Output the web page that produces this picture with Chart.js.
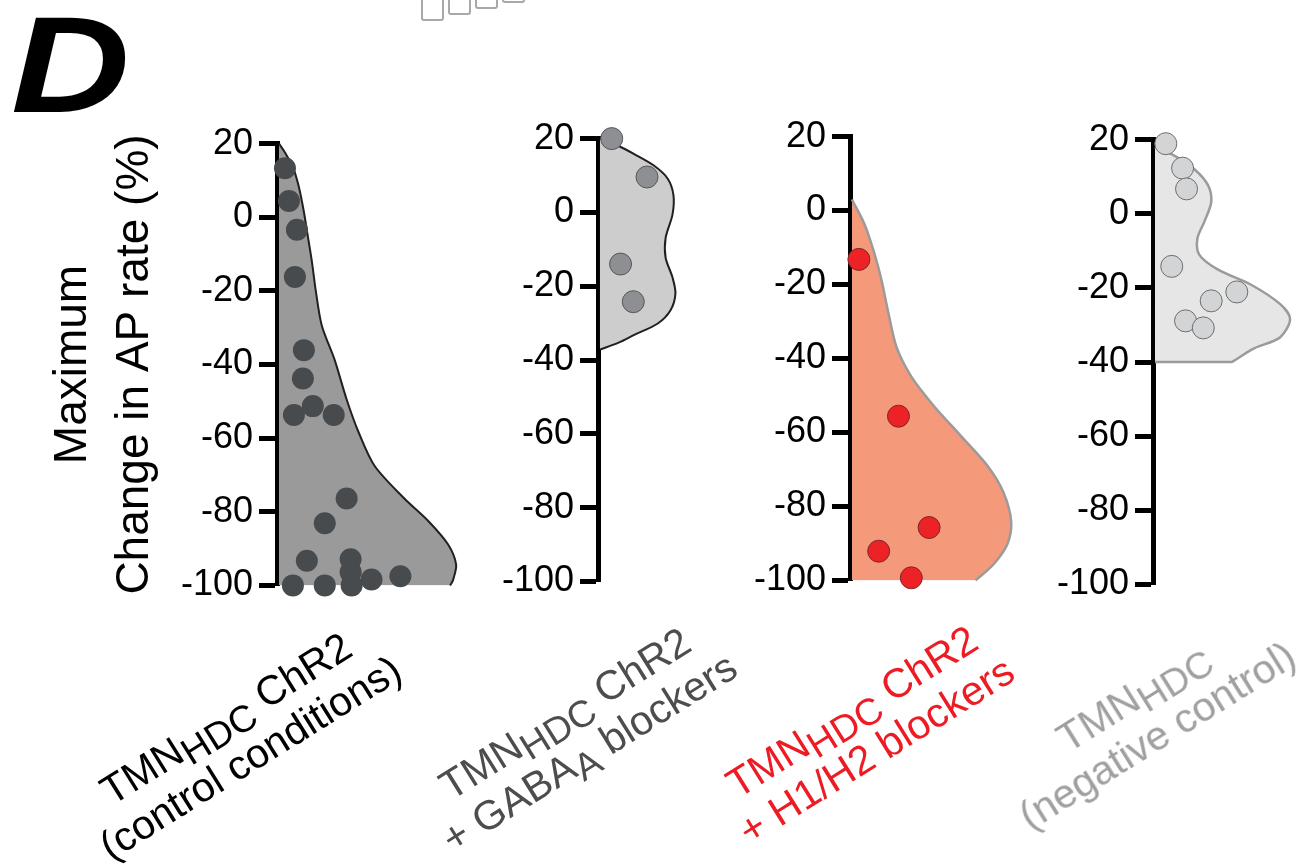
<!DOCTYPE html>
<html><head><meta charset="utf-8">
<script src="https://cdn.jsdelivr.net/npm/chart.js@4.4.1/dist/chart.umd.min.js"></script>
<style>
html,body{margin:0;padding:0;background:#fff;width:1315px;height:865px;overflow:hidden;font-family:"Liberation Sans",Arial,sans-serif;}
canvas{position:absolute;}
.lbl{position:absolute;white-space:nowrap;text-align:center;font-size:41px;line-height:46px;transform:translate(-50%,-50%) rotate(-32deg);}
.lbl sub{font-size:0.92em;vertical-align:-0.22em;line-height:0;}
.letter{position:absolute;left:11px;top:-4px;font:italic bold 137px/1 "Liberation Sans",Arial,sans-serif;color:#000;transform:scaleX(1.2);transform-origin:0 0;}
.box{position:absolute;top:-4px;border:2px solid #a7a8ab;border-radius:0 0 3px 3px;width:19px;}
</style></head>
<body>
<div class="letter">D</div>
<div class="box" style="left:421px;height:21px"></div>
<div class="box" style="left:448px;height:15px"></div>
<div class="box" style="left:475px;height:9px"></div>
<div class="box" style="left:502px;height:3px"></div>
<canvas id="c1" width="447" height="497" style="left:40px;top:116px"></canvas>
<canvas id="c2" width="220" height="498" style="left:488px;top:111px"></canvas>
<canvas id="c3" width="300" height="499" style="left:740px;top:109px"></canvas>
<canvas id="c4" width="265" height="500" style="left:1043px;top:112px"></canvas>
<div id="labels"></div>
<script>
// ---------- data ----------
const CATEGORY_LINES = [
  ["TMN<sub>HDC</sub> ChR2", "(control conditions)"],
  ["TMN<sub>HDC</sub> ChR2", "+ GABA<sub>A</sub> blockers"],
  ["TMN<sub>HDC</sub> ChR2", "+ H1/H2 blockers"],
  ["TMN<sub>HDC</sub>", "(negative control)"]
];
const Y_TICKS = [20, 0, -20, -40, -60, -80, -100];
const Y_TICK_LABELS = ["20", "0", "-20", "-40", "-60", "-80", "-100"];
const Y_TITLE = ["Maximum", "Change in AP rate (%)"];

// half-violin outlines: value and density width
const V1_VAL = [20, 17.6, 13.6, 8.2, 1.5, -5.2, -11.9, -20, -29.4, -38.8, -49.5, -58.4, -67.5, -76.4, -82.5, -88.9, -94.3, -98.5, -100];
const V1_W   = [0, 6, 14, 20, 25, 29, 33, 37, 43, 56, 68, 80, 96, 126, 150, 170, 178, 175, 172];
const V2_VAL = [20, 18, 15.8, 12.7, 9.2, 4.7, -0.6, -6.9, -12.3, -17.6, -22, -26.5, -30.1, -33.2, -35.3, -37.2];
const V2_W   = [0, 19, 35, 55, 69, 75, 74, 67, 67, 74, 77, 72, 59, 35, 19, 0];
const V3_VAL = [3, -3.9, -11.9, -19, -27.9, -36.9, -44.9, -52.9, -60.9, -69, -76.1, -84.1, -90.3, -95.7, -100];
const V3_W   = [0, 13, 23, 30, 37, 45, 60, 83, 110, 137, 153, 161, 157, 143, 125];
const V4_VAL = [18, 15.6, 12, 7.6, 3.1, -2.2, -6.7, -11.1, -15.1, -19.1, -24.4, -28.4, -33.3, -36.4, -40, -40, -40];
const V4_W   = [0, 20, 40, 54, 57, 50, 43, 45, 64, 97, 127, 137, 127, 100, 78, 77, 0];

// individual cells: jitter offset and value
const P1_JIT = [6, 10, 18, 16, 25, 24, 34, 15, 55, 68, 46, 28, 72, 72, 122, 93, 14, 46, 73];
const P1_VAL = [13.3, 4.4, -3.4, -16.2, -36.1, -43.8, -51.3, -53.7, -53.7, -76.4, -83.1, -93.3, -92.9, -96.4, -97.5, -98.4, -100, -100, -100];
const P2_JIT = [12, 48, 21, 34];
const P2_VAL = [20, 9.6, -14, -24.2];
const P3_JIT = [7, 47, 78, 27, 60];
const P3_VAL = [-13.2, -55.6, -85.7, -92.1, -99.3];
const P4_JIT = [11, 28, 32, 17, 83, 57, 31, 49];
const P4_VAL = [18.9, 12.3, 6.7, -14.2, -21.1, -23.5, -28.9, -30.8];

// ---------- styles / layout ----------
const FONT = '"Liberation Sans", Arial, sans-serif';
const PANELS = [
  {id:'c1', vv:V1_VAL, vw:V1_W, pv:P1_VAL, px:P1_JIT, yw:237, areaW:200, title:true,
   fill:'#9a9a9a', stroke:'#231f20', sw:2, pt:'#474b4d', ptb:'#474b4d', ptbw:0},
  {id:'c2', vv:V2_VAL, vw:V2_W, pv:P2_VAL, px:P2_JIT, yw:110, areaW:100, title:false,
   fill:'#cdcdcd', stroke:'#231f20', sw:2, pt:'#8d8f92', ptb:'#55575a', ptbw:1},
  {id:'c3', vv:V3_VAL, vw:V3_W, pv:P3_VAL, px:P3_JIT, yw:110, areaW:180, title:false,
   fill:'#f5997b', stroke:'#9b9b9b', sw:2.5, pt:'#ec2227', ptb:'#7a2a2a', ptbw:1},
  {id:'c4', vv:V4_VAL, vw:V4_W, pv:P4_VAL, px:P4_JIT, yw:110, areaW:145, title:false,
   fill:'#e6e6e6', stroke:'#9b9b9b', sw:2.5, pt:'#d3d4d5', ptb:'#6d6e70', ptbw:1}
];
const LABEL_STYLE = [
  {color:'#000000', x:238, y:738},
  {color:'#4d4d4f', x:577, y:733},
  {color:'#ed1c24', x:864, y:731},
  {color:'#a0a0a0', x:1145, y:716}
];

function build(p) {
  new Chart(document.getElementById(p.id), {
    type: 'line',
    data: {
      datasets: [
        {
          data: p.vw.map((w, i) => ({x: w, y: p.vv[i]})),
          indexAxis: 'y', fill: 'origin',
          backgroundColor: p.fill, borderColor: p.stroke, borderWidth: p.sw,
          pointRadius: 0, tension: 0.3, capBezierPoints: false, clip: false, order: 2
        },
        {
          type: 'scatter',
          data: p.px.map((x, i) => ({x: x, y: p.pv[i]})),
          pointRadius: 11, pointHoverRadius: 11,
          backgroundColor: p.pt, borderColor: p.ptb, borderWidth: p.ptbw,
          showLine: false, clip: false, order: 1
        }
      ]
    },
    options: {
      responsive: false, animation: false, events: [], devicePixelRatio: 1,
      layout: {padding: {top: 25, bottom: 25, left: 0, right: 10}},
      plugins: {legend: {display: false}, tooltip: {enabled: false}},
      scales: {
        x: {type: 'linear', display: false, min: -2, max: p.areaW - 2},
        y: {
          type: 'linear', position: 'left', min: -100, max: 20,
          afterBuildTicks: s => { s.ticks = Y_TICKS.map(v => ({value: v})); },
          afterFit: s => { s.width = p.yw; },
          ticks: {font: {family: FONT, size: 36}, color: '#000', padding: 6,
                  autoSkip: false, callback: (v, i) => Y_TICK_LABELS[i]},
          grid: {drawOnChartArea: false, drawTicks: true, tickLength: 18, tickWidth: 5, tickColor: '#000'},
          border: {display: true, width: 5, color: '#000'},
          title: p.title ? {display: true, text: Y_TITLE, color: '#000',
                  font: {family: FONT, size: 46, lineHeight: '62px'}, padding: {top: 2, bottom: 0}}
                : {display: false}
        }
      }
    }
  });
}
PANELS.forEach(build);

const host = document.getElementById('labels');
CATEGORY_LINES.forEach((lines, i) => {
  const d = document.createElement('div');
  d.className = 'lbl';
  d.style.left = LABEL_STYLE[i].x + 'px';
  d.style.top = LABEL_STYLE[i].y + 'px';
  d.style.color = LABEL_STYLE[i].color;
  d.innerHTML = lines.join('<br>');
  host.appendChild(d);
});
</script>
</body></html>
